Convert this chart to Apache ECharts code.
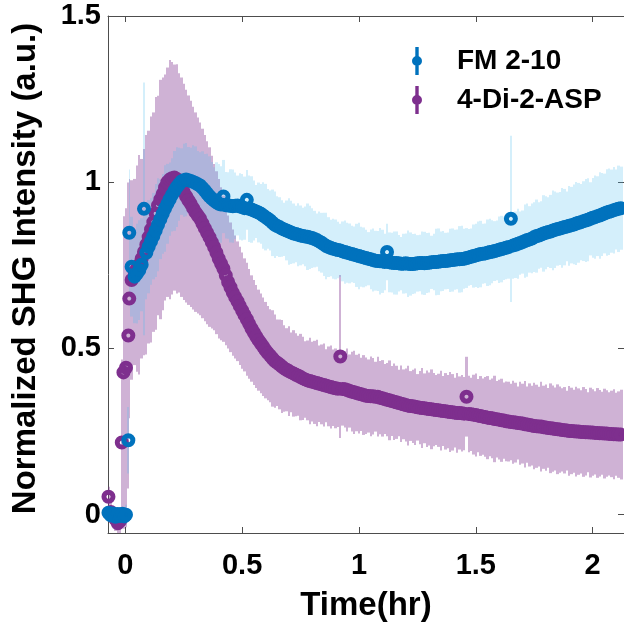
<!DOCTYPE html>
<html><head><meta charset="utf-8">
<script src="https://cdn.jsdelivr.net/npm/echarts@6/dist/echarts.min.js"></script>
<style>html,body{margin:0;padding:0;background:#fff}#c{width:624px;height:627px}</style>
</head><body><div id="c"></div>
<script>
// ---------- data ----------
const xTicks = [0, 0.5, 1, 1.5, 2];
const yTicks = [0, 0.5, 1, 1.5];

const fmTimeEarly = [-0.072,-0.062,-0.052,-0.042,-0.032,-0.022,-0.012,-0.004,0.003,0.013,0.017,0.027];
const fmEarly     = [0.006,-0.002,0.004,-0.006,0.002,-0.004,0.003,-0.005,0.000,0.224,0.848,0.746];
const fmEarlyErr  = [0.02,0.02,0.02,0.02,0.02,0.02,0.02,0.02,0.03,0.10,0.19,0.15];

const aspTimeEarly = [-0.072,-0.062,-0.052,-0.042,-0.032,-0.022,-0.015,-0.008,0.003,0.013,0.017,0.027];
const aspEarly     = [0.054,0.008,-0.004,-0.014,-0.026,-0.018,0.217,0.428,0.442,0.539,0.650,0.706];
const aspEarlyErr  = [0.03,0.03,0.03,0.035,0.035,0.04,0.25,0.47,0.48,0.46,0.36,0.30];

const timeMain = [
  0.04,0.05,0.06,0.07,0.08,0.09,0.10,0.11,0.12,0.13,
  0.14,0.15,0.16,0.17,0.18,0.19,0.20,0.21,0.22,0.23,
  0.24,0.25,0.26,0.27,0.28,0.29,0.30,0.31,0.32,0.33,
  0.34,0.35,0.36,0.37,0.38,0.39,0.40,0.41,0.42,0.43,
  0.44,0.45,0.46,0.47,0.48,0.49,0.50,0.51,0.52,0.53,
  0.54,0.55,0.56,0.57,0.58,0.59,0.60,0.61,0.62,0.63,
  0.64,0.65,0.66,0.67,0.68,0.69,0.70,0.71,0.72,0.73,
  0.74,0.75,0.76,0.77,0.78,0.79,0.80,0.81,0.82,0.83,
  0.84,0.85,0.86,0.87,0.88,0.89,0.90,0.91,0.92,0.93,
  0.94,0.95,0.96,0.97,0.98,0.99,1.00,1.01,1.02,1.03,
  1.04,1.05,1.06,1.07,1.08,1.09,1.10,1.11,1.12,1.13,
  1.14,1.15,1.16,1.17,1.18,1.19,1.20,1.21,1.22,1.23,
  1.24,1.25,1.26,1.27,1.28,1.29,1.30,1.31,1.32,1.33,
  1.34,1.35,1.36,1.37,1.38,1.39,1.40,1.41,1.42,1.43,
  1.44,1.45,1.46,1.47,1.48,1.49,1.50,1.51,1.52,1.53,
  1.54,1.55,1.56,1.57,1.58,1.59,1.60,1.61,1.62,1.63,
  1.64,1.65,1.66,1.67,1.68,1.69,1.70,1.71,1.72,1.73,
  1.74,1.75,1.76,1.77,1.78,1.79,1.80,1.81,1.82,1.83,
  1.84,1.85,1.86,1.87,1.88,1.89,1.90,1.91,1.92,1.93,
  1.94,1.95,1.96,1.97,1.98,1.99,2.00,2.01,2.02,2.03,
  2.04,2.05,2.06,2.07,2.08,2.09,2.10,2.11,2.12];

const fmMain = [
  0.716,0.725,0.736,0.752,0.920,0.788,0.806,0.822,0.838,0.855,
  0.872,0.889,0.905,0.921,0.935,0.949,0.962,0.974,0.985,0.994,
  1.002,1.006,1.008,1.006,1.004,1.001,0.998,0.994,0.990,0.983,
  0.975,0.966,0.958,0.951,0.945,0.940,0.935,0.933,0.957,0.931,
  0.930,0.929,0.928,0.929,0.930,0.927,0.925,0.922,0.947,0.920,
  0.918,0.915,0.912,0.909,0.905,0.900,0.895,0.890,0.885,0.878,
  0.872,0.868,0.865,0.861,0.858,0.855,0.852,0.849,0.846,0.844,
  0.842,0.840,0.838,0.837,0.836,0.834,0.832,0.829,0.826,0.822,
  0.818,0.813,0.808,0.805,0.802,0.800,0.798,0.796,0.795,0.792,
  0.790,0.788,0.786,0.784,0.782,0.780,0.778,0.776,0.774,0.772,
  0.770,0.768,0.766,0.764,0.763,0.762,0.762,0.760,0.790,0.759,
  0.758,0.757,0.757,0.756,0.755,0.755,0.756,0.755,0.754,0.754,
  0.755,0.756,0.757,0.757,0.756,0.757,0.758,0.759,0.760,0.760,
  0.761,0.762,0.763,0.763,0.764,0.765,0.766,0.767,0.768,0.768,
  0.769,0.770,0.772,0.774,0.776,0.778,0.780,0.782,0.784,0.785,
  0.786,0.788,0.790,0.791,0.793,0.795,0.797,0.799,0.801,0.803,
  0.805,0.890,0.810,0.812,0.815,0.817,0.820,0.823,0.826,0.828,
  0.831,0.835,0.838,0.840,0.843,0.846,0.848,0.850,0.852,0.855,
  0.857,0.859,0.861,0.863,0.865,0.867,0.869,0.871,0.873,0.876,
  0.878,0.880,0.883,0.885,0.887,0.890,0.893,0.895,0.898,0.900,
  0.903,0.906,0.909,0.911,0.913,0.916,0.918,0.920,0.922];

const fmErr = [
  0.14,0.15,0.15,0.14,0.38,0.14,0.14,0.13,0.13,0.14,
  0.14,0.12,0.12,0.13,0.12,0.11,0.11,0.12,0.12,0.11,
  0.10,0.11,0.11,0.10,0.10,0.11,0.11,0.10,0.10,0.11,
  0.11,0.12,0.12,0.11,0.10,0.12,0.12,0.115,0.11,0.10,
  0.10,0.11,0.11,0.10,0.09,0.10,0.10,0.095,0.09,0.10,
  0.10,0.09,0.08,0.09,0.09,0.10,0.10,0.09,0.09,0.10,
  0.10,0.09,0.09,0.085,0.08,0.09,0.10,0.095,0.09,0.085,
  0.095,0.09,0.085,0.09,0.10,0.095,0.09,0.085,0.08,0.09,
  0.09,0.095,0.10,0.09,0.085,0.09,0.09,0.085,0.08,0.09,
  0.095,0.09,0.09,0.085,0.085,0.095,0.10,0.09,0.09,0.085,
  0.08,0.09,0.095,0.09,0.09,0.10,0.095,0.085,0.085,0.09,
  0.09,0.095,0.095,0.085,0.08,0.09,0.09,0.10,0.095,0.09,
  0.09,0.085,0.085,0.095,0.095,0.09,0.09,0.08,0.085,0.10,
  0.10,0.09,0.09,0.085,0.085,0.095,0.095,0.09,0.09,0.10,
  0.10,0.09,0.09,0.085,0.085,0.095,0.095,0.10,0.10,0.09,
  0.09,0.10,0.10,0.095,0.09,0.09,0.10,0.10,0.095,0.095,
  0.095,0.25,0.10,0.10,0.105,0.095,0.095,0.11,0.11,0.10,
  0.105,0.105,0.11,0.10,0.10,0.115,0.11,0.105,0.11,0.12,
  0.115,0.11,0.11,0.12,0.115,0.105,0.12,0.115,0.12,0.125,
  0.12,0.115,0.12,0.125,0.125,0.11,0.12,0.125,0.12,0.13,
  0.125,0.12,0.13,0.13,0.125,0.13,0.12,0.13,0.125];

const aspMain = [
  0.730,0.740,0.752,0.770,0.790,0.812,0.835,0.858,0.880,0.906,
  0.930,0.948,0.965,0.984,1.000,1.008,1.012,1.014,1.010,0.998,
  0.985,0.971,0.958,0.946,0.935,0.922,0.910,0.900,0.890,0.876,
  0.862,0.848,0.835,0.820,0.805,0.788,0.770,0.755,0.740,0.720,
  0.700,0.684,0.668,0.655,0.642,0.628,0.614,0.601,0.588,0.574,
  0.560,0.548,0.536,0.525,0.515,0.505,0.495,0.486,0.478,0.470,
  0.462,0.457,0.452,0.446,0.440,0.436,0.432,0.428,0.425,0.421,
  0.418,0.414,0.410,0.407,0.404,0.402,0.400,0.398,0.396,0.394,
  0.392,0.390,0.388,0.386,0.384,0.382,0.380,0.379,0.476,0.378,
  0.377,0.375,0.372,0.370,0.368,0.366,0.364,0.362,0.360,0.358,
  0.357,0.356,0.356,0.355,0.355,0.352,0.350,0.348,0.346,0.344,
  0.342,0.340,0.338,0.336,0.334,0.332,0.330,0.328,0.327,0.326,
  0.325,0.323,0.322,0.321,0.320,0.319,0.318,0.317,0.316,0.315,
  0.314,0.313,0.312,0.311,0.310,0.309,0.308,0.307,0.306,0.306,
  0.305,0.304,0.355,0.303,0.302,0.301,0.300,0.298,0.297,0.295,
  0.294,0.292,0.291,0.290,0.288,0.287,0.286,0.284,0.283,0.281,
  0.280,0.279,0.278,0.277,0.276,0.275,0.274,0.272,0.271,0.270,
  0.268,0.267,0.266,0.265,0.265,0.263,0.262,0.261,0.260,0.259,
  0.258,0.257,0.256,0.255,0.254,0.253,0.252,0.252,0.251,0.250,
  0.250,0.249,0.249,0.248,0.248,0.247,0.247,0.246,0.246,0.245,
  0.245,0.244,0.244,0.243,0.243,0.242,0.242,0.241,0.241];

const aspErr = [
  0.28,0.31,0.33,0.30,0.31,0.33,0.32,0.34,0.33,0.35,
  0.33,0.36,0.35,0.34,0.345,0.36,0.35,0.34,0.345,0.33,
  0.33,0.325,0.32,0.315,0.31,0.305,0.30,0.295,0.29,0.285,
  0.28,0.275,0.27,0.26,0.25,0.245,0.24,0.23,0.22,0.21,
  0.20,0.195,0.19,0.185,0.18,0.178,0.175,0.17,0.17,0.165,
  0.16,0.158,0.155,0.152,0.15,0.148,0.145,0.142,0.14,0.145,
  0.14,0.13,0.135,0.14,0.13,0.125,0.135,0.12,0.13,0.125,
  0.12,0.13,0.125,0.115,0.12,0.13,0.12,0.125,0.13,0.115,
  0.12,0.125,0.11,0.12,0.125,0.115,0.12,0.115,0.245,0.11,
  0.115,0.125,0.11,0.12,0.125,0.115,0.12,0.11,0.12,0.115,
  0.11,0.12,0.115,0.105,0.12,0.11,0.115,0.105,0.11,0.12,
  0.105,0.115,0.11,0.10,0.115,0.105,0.11,0.12,0.105,0.11,
  0.115,0.10,0.11,0.12,0.105,0.115,0.11,0.12,0.11,0.105,
  0.11,0.12,0.105,0.115,0.11,0.12,0.115,0.105,0.12,0.11,
  0.115,0.11,0.12,0.115,0.11,0.12,0.125,0.11,0.12,0.115,
  0.12,0.125,0.115,0.12,0.13,0.115,0.12,0.125,0.115,0.12,
  0.12,0.115,0.125,0.12,0.11,0.125,0.12,0.13,0.115,0.125,
  0.12,0.13,0.125,0.12,0.135,0.125,0.13,0.12,0.135,0.13,
  0.125,0.135,0.13,0.125,0.13,0.12,0.135,0.13,0.125,0.135,
  0.13,0.125,0.135,0.13,0.12,0.135,0.13,0.125,0.135,0.13,
  0.125,0.135,0.13,0.125,0.13,0.135,0.125,0.13,0.135];

// ---------- build ----------
const fmTime = fmTimeEarly.concat(timeMain), fmVal = fmEarly.concat(fmMain), fmE = fmEarlyErr.concat(fmErr);
const aspTime = aspTimeEarly.concat(timeMain), aspVal = aspEarly.concat(aspMain), aspE = aspEarlyErr.concat(aspErr);

function bandData(t, v, e) {
  const out = [];
  for (let i = 0; i < t.length; i++) {
    const l = i > 0 ? (t[i-1] + t[i]) / 2 : t[i] - 0.005;
    const r = i < t.length - 1 ? (t[i] + t[i+1]) / 2 : t[i] + 0.01;
    out.push([t[i], v[i] - e[i], v[i] + e[i], l, r]);
  }
  return out;
}
function pts(t, v) { return t.map((x, i) => [x, v[i]]); }

const FONT = '"Liberation Sans", Arial, Helvetica, sans-serif';
const BLUE = '#0072BD', PURPLE = '#7E2F8E';
const ICON = 'path://M3.3,0H6.7V28H3.3Z M0,14A5,5,0,1,1,10,14A5,5,0,1,1,0,14Z';

function bandSeries(name, data, fill) {
  return {
    type: 'custom', name: name, data: data, silent: true, clip: true,
    encode: { x: [3, 4], y: [1, 2] },
    renderItem: function (params, api) {
      const p1 = api.coord([api.value(3), api.value(2)]);
      const p2 = api.coord([api.value(4), api.value(1)]);
      const x1 = Math.round(p1[0]), x2 = Math.round(p2[0]);
      if (x2 <= x1) return null;
      return { type: 'rect', shape: { x: x1, y: p1[1], width: x2 - x1, height: p2[1] - p1[1] },
               style: { fill: fill } };
    }
  };
}
function markerSeries(name, data, color) {
  return {
    type: 'scatter', name: name, data: data, symbol: 'circle', symbolSize: 9,
    itemStyle: { color: 'rgba(0,0,0,0)', borderColor: color, borderWidth: 5, opacity: 1 },
    emphasis: { disabled: true }, silent: true
  };
}

const axisLineStyle = { color: '#4d4d4d', width: 1 };
const tickFont = { fontSize: 29, fontWeight: 'bold', fontFamily: FONT, color: '#000' };
const titleFont = { fontSize: 33, fontWeight: 'bold', fontFamily: FONT, color: '#000' };

const chart = echarts.init(document.getElementById('c'), null, { renderer: 'canvas' });
chart.setOption({
  animation: false,
  backgroundColor: '#fff',
  grid: { left: 108, top: 16, width: 518, height: 518, containLabel: false },
  legend: {
    orient: 'vertical', left: 407, top: 41, itemWidth: 10, itemHeight: 28, itemGap: 9,
    selectedMode: false, icon: ICON,
    data: [
      { name: 'FM 2-10', itemStyle: { color: BLUE, borderWidth: 0, opacity: 1 } },
      { name: '4-Di-2-ASP', itemStyle: { color: PURPLE, borderWidth: 0, opacity: 1 } }
    ],
    textStyle: { fontSize: 28, fontWeight: 'bold', fontFamily: FONT, color: '#000', padding: [0, 0, 0, 30], lineHeight: 30 }
  },
  xAxis: [
    { type: 'value', min: -0.074, max: 2.134, position: 'bottom',
      axisLine: { show: true, onZero: false, lineStyle: axisLineStyle },
      axisTick: { show: true, inside: true, length: 6, customValues: xTicks, lineStyle: axisLineStyle },
      axisLabel: Object.assign({ show: true, customValues: xTicks, margin: 18, formatter: v => String(v) }, tickFont),
      splitLine: { show: false },
      name: 'Time(hr)', nameLocation: 'middle', nameGap: 56, nameTextStyle: titleFont },
    { type: 'value', min: -0.074, max: 2.134, position: 'top',
      axisLine: { show: true, onZero: false, lineStyle: axisLineStyle },
      axisTick: { show: true, inside: true, length: 6, customValues: xTicks, lineStyle: axisLineStyle },
      axisLabel: { show: false }, splitLine: { show: false } }
  ],
  yAxis: [
    { type: 'value', min: -0.055, max: 1.5, position: 'left',
      axisLine: { show: true, onZero: false, lineStyle: axisLineStyle },
      axisTick: { show: true, inside: true, length: 6, customValues: yTicks, lineStyle: axisLineStyle },
      axisLabel: Object.assign({ show: true, customValues: yTicks, margin: 7, formatter: v => String(v) }, tickFont),
      splitLine: { show: false },
      name: 'Normalized SHG Intensity (a.u.)', nameLocation: 'middle', nameGap: 66, nameRotate: 90,
      nameTextStyle: Object.assign({ padding: [0, 0, 0, 12] }, titleFont) },
    { type: 'value', min: -0.055, max: 1.5, position: 'right',
      axisLine: { show: true, onZero: false, lineStyle: axisLineStyle },
      axisTick: { show: true, inside: true, length: 6, customValues: yTicks, lineStyle: axisLineStyle },
      axisLabel: { show: false }, splitLine: { show: false } }
  ],
  series: [
    bandSeries('aspBand', bandData(aspTime, aspVal, aspE), 'rgba(126,47,142,0.37)'),
    markerSeries('4-Di-2-ASP', pts(aspTime, aspVal), PURPLE),
    bandSeries('fmBand', bandData(fmTime, fmVal, fmE), 'rgba(77,190,238,0.24)'),
    markerSeries('FM 2-10', pts(fmTime, fmVal), BLUE)
  ]
});
</script></body></html>
